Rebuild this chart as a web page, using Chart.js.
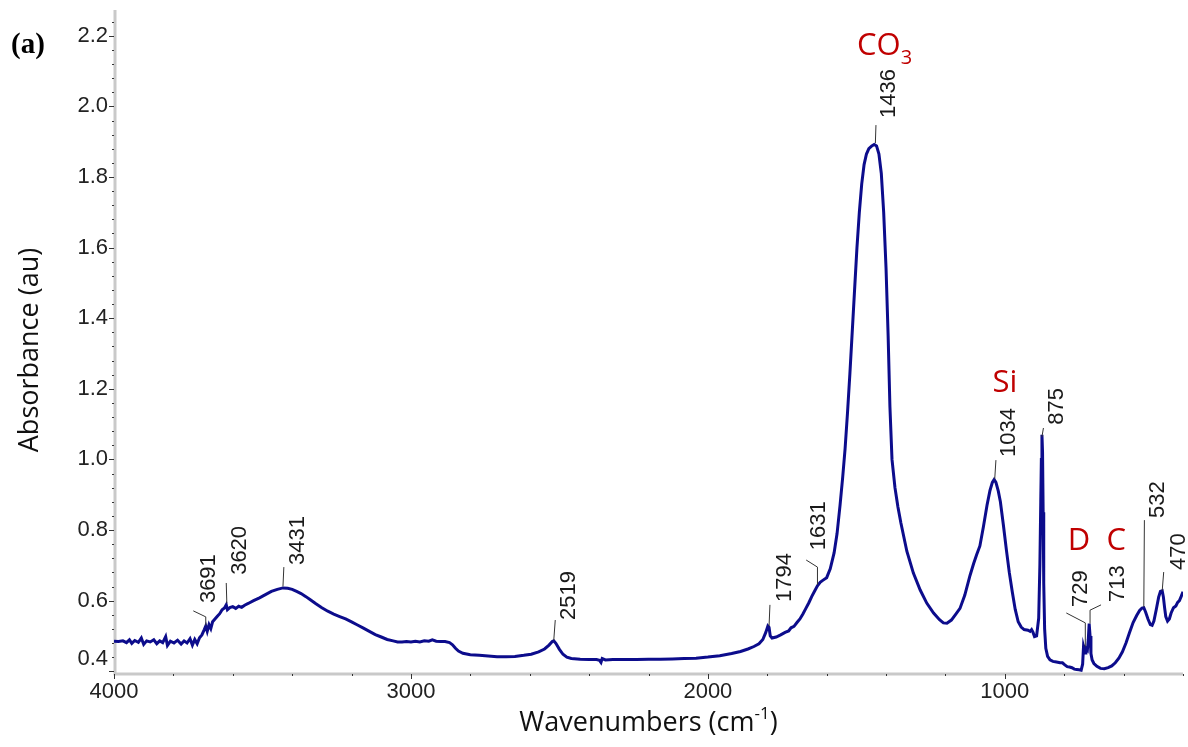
<!DOCTYPE html>
<html>
<head>
<meta charset="utf-8">
<script src="https://cdn.jsdelivr.net/npm/chart.js@4.4.1/dist/chart.umd.min.js"></script>
<style>
  body { margin: 0; background: #fff; }
  canvas { display: block; }
</style>
</head>
<body>
<canvas id="spectrum" width="1188" height="747"></canvas>
<script>
// FTIR spectrum, values
const wavenumbers = [
    4000, 3985, 3970, 3958, 3948, 3940, 3930, 3918, 3908, 3900, 3890, 3878, 3866, 3856, 3846, 3836, 3826, 3820, 3810, 3798,
    3786, 3774, 3764, 3754, 3744, 3736, 3728, 3720, 3712, 3704, 3696, 3691, 3686, 3680, 3674, 3668, 3660, 3652, 3644, 3636,
    3628, 3622, 3618, 3610, 3600, 3590, 3580, 3570, 3560, 3548, 3530, 3510, 3490, 3470, 3450, 3431, 3415, 3400, 3385, 3370,
    3355, 3340, 3320, 3300, 3280, 3260, 3240, 3220, 3200, 3180, 3160, 3140, 3120, 3100, 3080, 3060, 3045, 3030, 3015, 3000,
    2985, 2970, 2955, 2940, 2928, 2915, 2900, 2885, 2870, 2860, 2850, 2840, 2825, 2800, 2770, 2740, 2710, 2680, 2650, 2620,
    2595, 2570, 2550, 2535, 2524, 2519, 2512, 2500, 2488, 2475, 2460, 2430, 2400, 2375, 2365, 2360, 2356, 2345, 2320, 2280,
    2240, 2200, 2160, 2120, 2080, 2040, 2000, 1960, 1920, 1890, 1865, 1845, 1828, 1815, 1805, 1798, 1794, 1790, 1784, 1770,
    1755, 1740, 1728, 1720, 1710, 1700, 1690, 1680, 1670, 1660, 1650, 1640, 1631, 1622, 1612, 1600, 1588, 1575, 1565, 1555,
    1546, 1538, 1530, 1522, 1514, 1506, 1498, 1490, 1482, 1474, 1466, 1458, 1448, 1440, 1432, 1424, 1416, 1408, 1400, 1393,
    1387, 1380, 1370, 1360, 1350, 1330, 1308, 1285, 1263, 1240, 1220, 1207, 1195, 1180, 1165, 1151, 1135, 1117, 1105, 1095,
    1084, 1072, 1060, 1050, 1042, 1036, 1030, 1022, 1015, 1005, 995, 985, 975, 965, 955, 945, 935, 922, 915, 910,
    905, 900, 893, 886, 882, 879, 877, 875, 873, 871, 869, 866, 862, 856, 848, 838, 826, 814, 806, 798,
    790, 782, 774, 766, 758, 750, 743, 738, 735, 732, 730, 727, 722, 719, 716, 713, 710, 706, 700, 690,
    678, 665, 652, 640, 628, 616, 604, 592, 580, 568, 556, 546, 538, 532, 526, 518, 510, 504, 498, 490,
    482, 476, 470, 466, 462, 458, 452, 446, 440, 432, 424, 418, 412, 406, 400
];
const absorbance = [
    0.485, 0.484, 0.486, 0.481, 0.489, 0.479, 0.487, 0.482, 0.494, 0.476, 0.486, 0.483, 0.489, 0.478, 0.486, 0.481, 0.498, 0.473, 0.485, 0.480,
    0.488, 0.477, 0.486, 0.480, 0.492, 0.474, 0.490, 0.478, 0.495, 0.503, 0.518, 0.528, 0.513, 0.532, 0.521, 0.540, 0.548, 0.556, 0.563, 0.574,
    0.579, 0.588, 0.574, 0.580, 0.583, 0.578, 0.584, 0.581, 0.587, 0.592, 0.600, 0.608, 0.617, 0.626, 0.632, 0.636, 0.635, 0.632, 0.626, 0.620,
    0.612, 0.603, 0.591, 0.580, 0.570, 0.562, 0.555, 0.548, 0.540, 0.531, 0.522, 0.513, 0.504, 0.497, 0.490, 0.486, 0.483, 0.483, 0.484, 0.483,
    0.485, 0.483, 0.486, 0.485, 0.489, 0.485, 0.484, 0.484, 0.481, 0.475, 0.465, 0.457, 0.451, 0.447, 0.445, 0.443, 0.441, 0.441, 0.442, 0.445,
    0.448, 0.455, 0.463, 0.474, 0.484, 0.486, 0.479, 0.462, 0.448, 0.440, 0.436, 0.434, 0.433, 0.433, 0.431, 0.425, 0.436, 0.432, 0.433, 0.433,
    0.433, 0.434, 0.434, 0.435, 0.436, 0.437, 0.440, 0.444, 0.450, 0.456, 0.463, 0.470, 0.478, 0.490, 0.510, 0.528, 0.524, 0.500, 0.494, 0.497,
    0.503, 0.510, 0.514, 0.523, 0.527, 0.538, 0.548, 0.562, 0.578, 0.594, 0.612, 0.628, 0.642, 0.652, 0.658, 0.665, 0.690, 0.735, 0.790, 0.870,
    0.950, 1.030, 1.130, 1.240, 1.360, 1.480, 1.600, 1.700, 1.780, 1.835, 1.865, 1.880, 1.888, 1.892, 1.888, 1.865, 1.810, 1.700, 1.540, 1.350,
    1.150, 1.000, 0.920, 0.865, 0.820, 0.740, 0.678, 0.630, 0.593, 0.565, 0.546, 0.537, 0.536, 0.545, 0.562, 0.578, 0.615, 0.672, 0.705, 0.730,
    0.755, 0.810, 0.870, 0.912, 0.935, 0.943, 0.935, 0.910, 0.880, 0.815, 0.745, 0.680, 0.625, 0.575, 0.540, 0.525, 0.518, 0.516, 0.513, 0.518,
    0.510, 0.498, 0.500, 0.550, 0.700, 0.880, 1.000, 1.070, 1.020, 0.850, 0.650, 0.520, 0.465, 0.442, 0.432, 0.428, 0.426, 0.424, 0.424, 0.418,
    0.413, 0.412, 0.410, 0.406, 0.405, 0.404, 0.403, 0.420, 0.470, 0.460, 0.452, 0.465, 0.460, 0.490, 0.535, 0.500, 0.450, 0.432, 0.422, 0.414,
    0.408, 0.407, 0.410, 0.415, 0.424, 0.437, 0.455, 0.480, 0.510, 0.538, 0.558, 0.572, 0.579, 0.580, 0.568, 0.548, 0.532, 0.530, 0.542, 0.575,
    0.610, 0.626, 0.628, 0.610, 0.580, 0.555, 0.542, 0.548, 0.565, 0.580, 0.585, 0.595, 0.600, 0.612, 0.625
];

const xTicks = [4000, 3000, 2000, 1000];
const yTicks = [0.4, 0.6, 0.8, 1.0, 1.2, 1.4, 1.6, 1.8, 2.0, 2.2];

// peak labels: text, text centre (wavenumber), text bottom (absorbance), leader polyline
const peakLabels = ['3691', '3620', '3431', '2519', '1794', '1631', '1436', '1034', '875', '729', '713', '532', '470'];
const peakTextWn = [3683, 3579, 3384, 2471, 1743, 1629, 1393, 989, 827, 746, 621, 487, 416];
const peakTextAbs = [0.593, 0.673, 0.701, 0.545, 0.596, 0.743, 1.967, 1.007, 1.098, 0.582, 0.596, 0.834, 0.687];
const peakLeaders = [
    [[3691, 0.530], [3691, 0.554], [3733, 0.571]],
    [[3620, 0.593], [3622, 0.650]],
    [[3431, 0.640], [3428, 0.695]],
    [[2519, 0.488], [2514, 0.545]],
    [[1794, 0.528], [1791, 0.588]],
    [[1631, 0.645], [1631, 0.695], [1669, 0.715]],
    [[1436, 1.896], [1434, 1.947]],
    [[1034, 0.945], [1030, 0.998]],
    [[875, 1.064], [870, 1.089]],
    [[729, 0.470], [729, 0.537], [793, 0.565]],
    [[713, 0.535], [713, 0.573], [676, 0.588]],
    [[532, 0.582], [530, 0.828]],
    [[470, 0.628], [465, 0.681]]
];

// red band names: text, subscript, centre wavenumber, baseline absorbance
const bandNames = ['CO', 'Si', 'D', 'C'];
const bandSubs = ['3', '', '', ''];
const bandWn = [1405, 1000, 750, 625];
const bandAbs = [2.146, 1.191, 0.743, 0.743];

const points = wavenumbers.map((w, i) => ({ x: w, y: absorbance[i] }));

const tickFont = "22px 'Liberation Sans', Arial, sans-serif";

const decorPlugin = {
    id: 'decor',
    beforeDatasetsDraw(chart) {
        const ctx = chart.ctx;
        const xs = chart.scales.x, ys = chart.scales.y;
        const a = chart.chartArea;
        ctx.save();
        // axis bands
        ctx.strokeStyle = '#c9c9c9';
        ctx.lineWidth = 3;
        ctx.beginPath();
        ctx.moveTo(a.left + 1, a.top);
        ctx.lineTo(a.left + 1, a.bottom + 1);
        ctx.lineTo(a.right, a.bottom + 1);
        ctx.stroke();
        // tick marks
        ctx.strokeStyle = '#333';
        ctx.lineWidth = 1;
        for (let v = 4000; v >= 400; v -= 200) {
            const px = Math.round(xs.getPixelForValue(v)) + 0.5;
            const major = xTicks.includes(v);
            ctx.beginPath();
            ctx.moveTo(px, a.bottom + 1);
            ctx.lineTo(px, a.bottom + (major ? 6 : 3));
            ctx.stroke();
        }
        for (let k = 0; k <= 46; k++) {
            const v = 0.4 + k * 0.04;
            const py = Math.round(ys.getPixelForValue(v)) + 0.5;
            if (py < a.top) continue;
            const major = k % 5 === 0;
            ctx.beginPath();
            ctx.moveTo(a.left - (major ? 5 : 2), py);
            ctx.lineTo(a.left, py);
            ctx.stroke();
        }
        // y tick labels, the lowest one kept inside the axis
        ctx.fillStyle = '#222';
        ctx.font = tickFont;
        ctx.textAlign = 'right';
        ctx.textBaseline = 'middle';
        yTicks.forEach(v => {
            const py = Math.min(ys.getPixelForValue(v), a.bottom - 14);
            ctx.fillText(v.toFixed(1), a.left - 6, py);
        });
        ctx.restore();
    },
    afterDatasetsDraw(chart) {
        const ctx = chart.ctx;
        const xs = chart.scales.x, ys = chart.scales.y;
        const a = chart.chartArea;
        ctx.save();

        // leaders
        ctx.strokeStyle = '#333';
        ctx.lineWidth = 1;
        peakLeaders.forEach(line => {
            ctx.beginPath();
            line.forEach((p, i) => {
                const px = xs.getPixelForValue(p[0]), py = ys.getPixelForValue(p[1]);
                if (i === 0) ctx.moveTo(px, py); else ctx.lineTo(px, py);
            });
            ctx.stroke();
        });

        // rotated peak numbers
        ctx.fillStyle = '#1a1a1a';
        ctx.font = tickFont;
        ctx.textAlign = 'left';
        ctx.textBaseline = 'middle';
        peakLabels.forEach((t, i) => {
            ctx.save();
            ctx.translate(xs.getPixelForValue(peakTextWn[i]), ys.getPixelForValue(peakTextAbs[i]));
            ctx.rotate(-Math.PI / 2);
            ctx.fillText(t, 0, 1);
            ctx.restore();
        });

        // red band names
        ctx.fillStyle = '#c00000';
        ctx.textBaseline = 'alphabetic';
        bandNames.forEach((t, i) => {
            ctx.font = "31px 'Open Sans', sans-serif";
            const w = ctx.measureText(t).width;
            ctx.font = "20px 'Open Sans', sans-serif";
            const ws = bandSubs[i] ? ctx.measureText(bandSubs[i]).width : 0;
            const cx = xs.getPixelForValue(bandWn[i]);
            const by = ys.getPixelForValue(bandAbs[i]);
            const left = cx - (w + ws) / 2;
            ctx.font = "31px 'Open Sans', sans-serif";
            ctx.fillText(t, left, by);
            if (bandSubs[i]) {
                ctx.font = "20px 'Open Sans', sans-serif";
                ctx.fillText(bandSubs[i], left + w, by + 9);
            }
        });

        // axis titles
        ctx.fillStyle = '#111';
        ctx.font = "27px 'Open Sans', sans-serif";
        ctx.save();
        ctx.translate(30, 350);
        ctx.rotate(-Math.PI / 2);
        ctx.textAlign = 'center';
        ctx.textBaseline = 'middle';
        ctx.fillText('Absorbance (au)', 0, 0);
        ctx.restore();

        const main = 'Wavenumbers (cm';
        ctx.font = "27px 'Open Sans', sans-serif";
        const w1 = ctx.measureText(main).width;
        ctx.font = "17px 'Open Sans', sans-serif";
        const w2 = ctx.measureText('-1').width;
        ctx.font = "27px 'Open Sans', sans-serif";
        const w3 = ctx.measureText(')').width;
        const cx = (a.left + a.right) / 2;
        let x0 = cx - (w1 + w2 + w3) / 2;
        ctx.textAlign = 'left';
        ctx.textBaseline = 'alphabetic';
        ctx.fillText(main, x0, 731);
        ctx.font = "17px 'Open Sans', sans-serif";
        ctx.fillText('-1', x0 + w1, 719);
        ctx.font = "27px 'Open Sans', sans-serif";
        ctx.fillText(')', x0 + w1 + w2, 731);

        // panel letter
        ctx.fillStyle = '#000';
        ctx.font = "bold 29px 'Liberation Serif', 'Times New Roman', serif";
        ctx.fillText('(a)', 11, 53);
        ctx.restore();
    }
};

new Chart(document.getElementById('spectrum'), {
    type: 'line',
    data: {
        datasets: [{
            data: points,
            borderColor: '#0c0c8c',
            borderWidth: 3,
            pointRadius: 0,
            tension: 0,
            fill: false
        }]
    },
    options: {
        responsive: false,
        animation: false,
        events: [],
        layout: { padding: { top: 10, right: 5, left: 0, bottom: 0 } },
        plugins: {
            legend: { display: false },
            tooltip: { enabled: false }
        },
        scales: {
            x: {
                type: 'linear',
                reverse: true,
                min: 400,
                max: 4000,
                afterBuildTicks: s => { s.ticks = xTicks.map(v => ({ value: v })); },
                afterFit: s => { s.height = 74; },
                grid: { display: false, drawTicks: false },
                border: { display: false },
                ticks: {
                    padding: 6,
                    maxRotation: 0,
                    color: '#222',
                    font: { family: "'Liberation Sans', Arial, sans-serif", size: 22 },
                    callback: v => String(v)
                }
            },
            y: {
                type: 'linear',
                min: 0.395,
                max: 2.273,
                afterBuildTicks: s => { s.ticks = yTicks.map(v => ({ value: v })); },
                afterFit: s => { s.width = 114; },
                grid: { display: false, drawTicks: false },
                border: { display: false },
                ticks: { display: false }
            }
        }
    },
    plugins: [decorPlugin]
});
</script>
</body>
</html>
